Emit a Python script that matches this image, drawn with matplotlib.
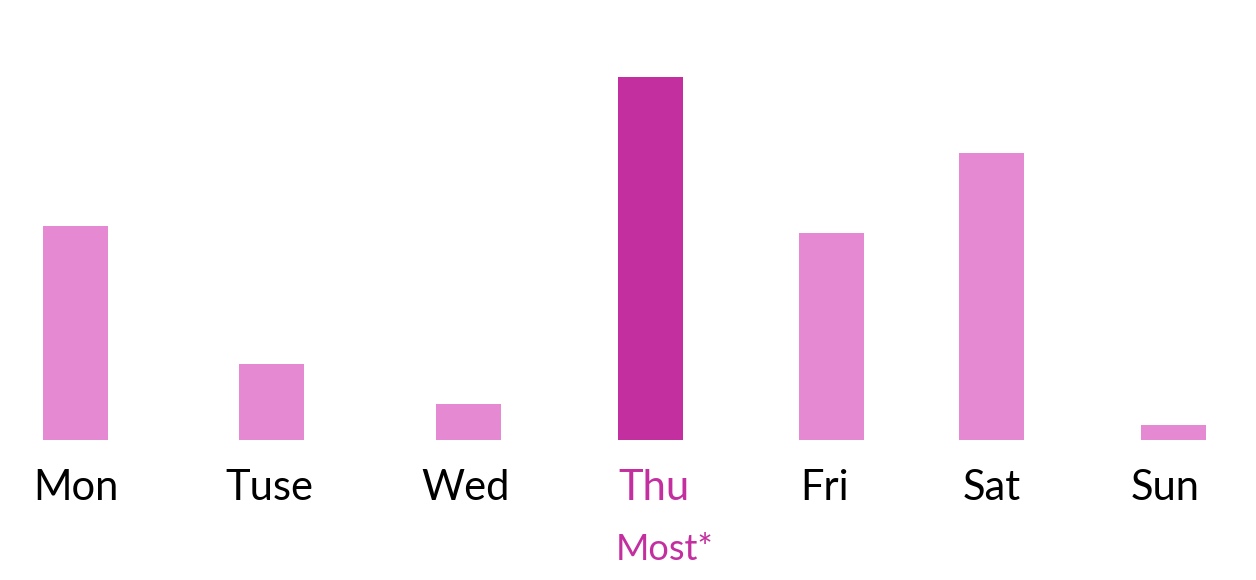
import matplotlib
matplotlib.use("Agg")
import matplotlib.pyplot as plt

# --- data ---
days = ["Mon", "Tuse", "Wed", "Thu", "Fri", "Sat", "Sun"]
values = [59, 21, 10, 100, 57, 79, 4]
highlight = "Thu"
note = "Most*"

# --- layout (pixel positions across a 1256 px wide canvas) ---
bar_x = [75.5, 271.5, 468.5, 650, 831.5, 991.5, 1173.5]
label_x = [75.5, 269.5, 466, 654, 825, 992, 1165.5]
bar_width = 65

light = "#E589D3"
dark = "#C42FA0"

plt.rcParams["font.family"] = ["Lato", "DejaVu Sans"]

fig = plt.figure(figsize=(12.56, 5.8), dpi=100)
ax = fig.add_axes([0, 0, 1, 1])

colors = [dark if d == highlight else light for d in days]
ax.bar(bar_x, values, width=bar_width, color=colors)

# px per value unit: tallest bar is 363 px, baseline sits 140 px above bottom
scale = 363 / max(values)
ax.set_xlim(0, 1256)
ax.set_ylim(-140 / scale, 440 / scale)

for x, d in zip(label_x, days):
    c = dark if d == highlight else "black"
    ax.text(x, -60 / scale, d, ha="center", va="baseline", fontsize=30, color=c)
    if d == highlight:
        ax.text(x + 11, -120 / scale, note, ha="center", va="baseline",
                fontsize=26, color=dark)

ax.axis("off")
fig.savefig("out.png", dpi=100)
